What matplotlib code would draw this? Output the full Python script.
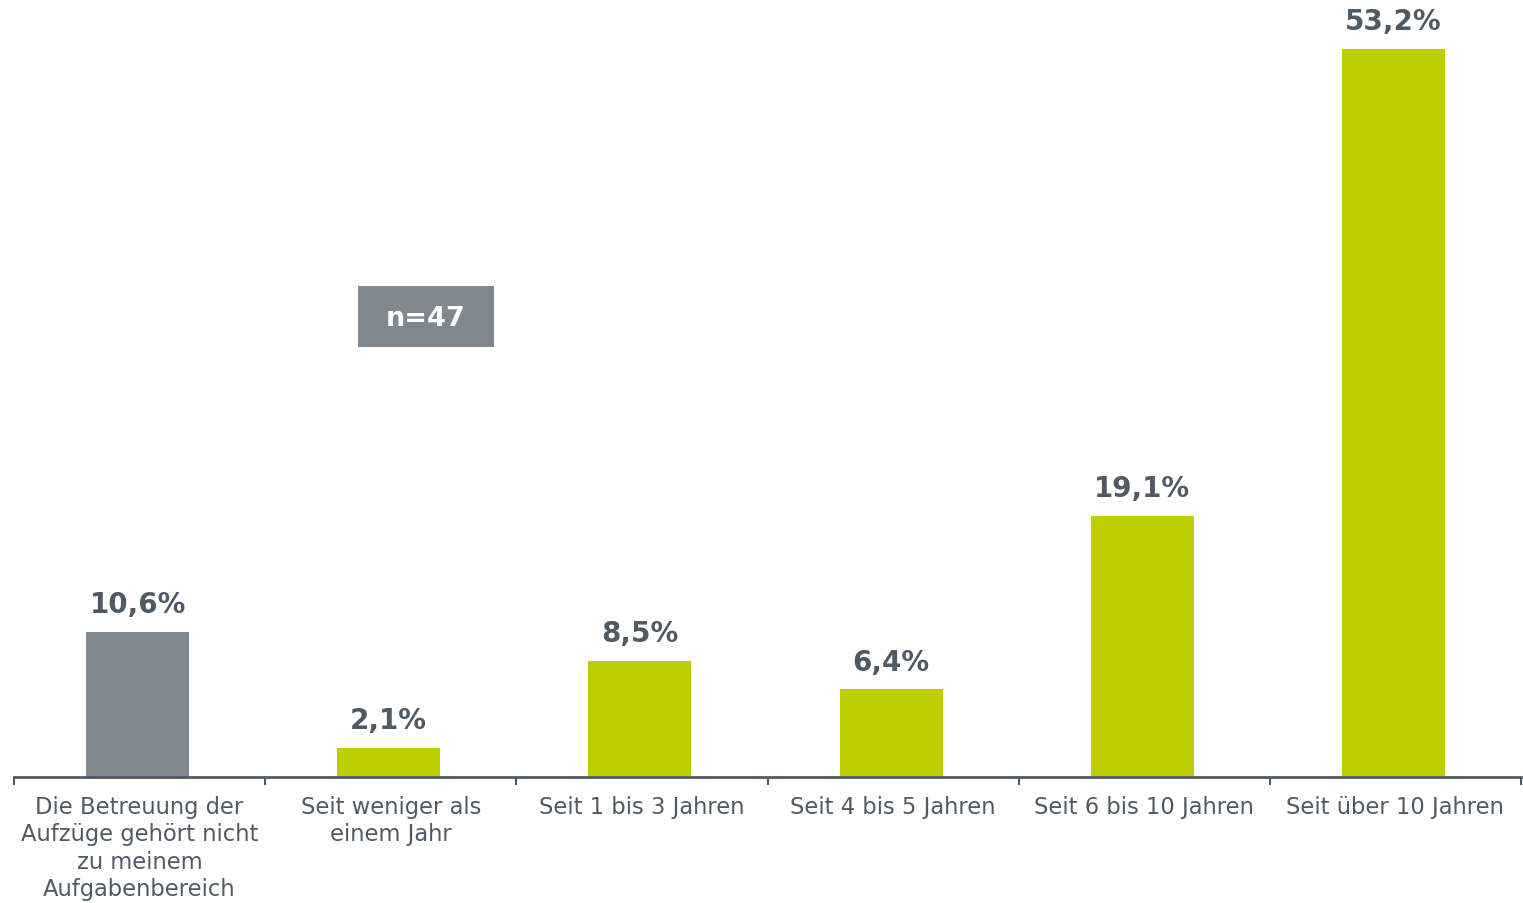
import matplotlib
matplotlib.use("Agg")
import matplotlib.pyplot as plt
from matplotlib.patches import Rectangle
from matplotlib.ticker import FixedLocator

categories = [
    "Die Betreuung der\nAufzüge gehört nicht\nzu meinem\nAufgabenbereich",
    "Seit weniger als\neinem Jahr",
    "Seit 1 bis 3 Jahren",
    "Seit 4 bis 5 Jahren",
    "Seit 6 bis 10 Jahren",
    "Seit über 10 Jahren",
]
values = [10.6, 2.1, 8.5, 6.4, 19.1, 53.2]
value_labels = ["10,6%", "2,1%", "8,5%", "6,4%", "19,1%", "53,2%"]
sample_note = "n=47"

GRAY = "#7F8790"
GREEN = "#BFCE00"
TEXT = "#505A64"
bar_colors = [GRAY] + [GREEN] * 5

plt.rcParams["font.family"] = ["DejaVu Sans"]

W, H = 1523, 904
fig = plt.figure(figsize=(W / 100, H / 100), dpi=100)
ax = fig.add_axes([14 / W, 126 / H, 1507 / W, 778 / H])

x = list(range(len(categories)))
ax.bar([xi - 0.008 for xi in x], values, width=0.41, color=bar_colors, zorder=2)

for xi, v, lab in zip(x, values, value_labels):
    ax.annotate(lab, (xi - 0.008, v), xytext=(0, 10), textcoords="offset points",
                ha="center", va="bottom", fontsize=20, fontweight="bold",
                color=TEXT)

ax.set_xlim(-0.5, len(categories) - 0.5)
ax.set_ylim(0, 778 / (728 / 53.2))

for side in ("left", "right", "top"):
    ax.spines[side].set_visible(False)
ax.spines["bottom"].set_color(TEXT)
ax.spines["bottom"].set_linewidth(2)
ax.set_yticks([])

ax.set_xticks(x)
ax.set_xticklabels(categories, fontsize=16.3, color=TEXT, linespacing=1.24,
                   va="top")
ax.tick_params(axis="x", which="major", length=0, pad=13)
ax.xaxis.set_minor_locator(FixedLocator([i - 0.5 for i in range(len(categories) + 1)]))
ax.tick_params(axis="x", which="minor", length=6, width=1.5, color=TEXT)

# sample size badge
bx0, by0, bx1, by1 = 358, 287, 494, 348
fig.patches.append(Rectangle((bx0 / W, 1 - by1 / H), (bx1 - bx0) / W, (by1 - by0) / H,
                             transform=fig.transFigure, facecolor=GRAY,
                             edgecolor="none", zorder=3))
fig.text((bx0 + bx1) / 2 / W, 1 - (by0 + by1 + 4) / 2 / H, sample_note,
         ha="center", va="center", fontsize=19.5, fontweight="bold",
         color="white", zorder=4)

fig.savefig("out.png", dpi=100)
